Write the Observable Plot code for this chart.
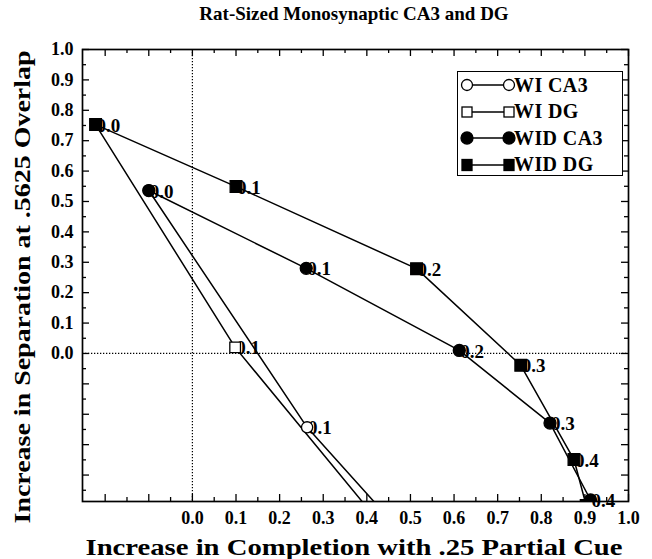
<!DOCTYPE html>
<html><head><meta charset="utf-8">
<script src="https://cdn.jsdelivr.net/npm/d3@7"></script>
<script src="https://cdn.jsdelivr.net/npm/@observablehq/plot@0.6"></script>
<style>
body{margin:0;background:#fff;font-family:"Liberation Serif",serif;}
#wrap{position:relative;width:652px;height:559px;}
#title{height:30px;box-sizing:border-box;padding-left:80px;padding-right:24px;text-align:center;font-weight:bold;font-size:19px;line-height:27px;}
#legend{position:absolute;left:457px;top:71px;width:166px;height:105px;box-sizing:border-box;border:1.6px solid #000;background:#fff;}
.row{height:26.5px;display:flex;align-items:center;font-weight:bold;font-size:20px;letter-spacing:0.4px;white-space:nowrap;}
.row svg{flex:none;overflow:visible;}
svg text.tick{letter-spacing:1px;}
</style></head><body>
<div id="wrap"><div id="title">Rat-Sized Monosynaptic CA3 and DG</div><div id="chart"></div><div id="legend"></div></div>
<script>
// ---- data ----
const seriesNames = ["WI CA3", "WI DG", "WID CA3", "WID DG"];

const wiCA3X = [-0.100, 0.263, 0.487];
const wiCA3Y = [0.536, -0.243, -0.60];
const wiCA3Labels = ["", "0.1", ""];

const wiDGX = [-0.222, 0.098, 0.454];
const wiDGY = [0.753, 0.020, -0.60];
const wiDGLabels = ["", "0.1", ""];

const widCA3X = [-0.100, 0.261, 0.612, 0.820, 0.913];
const widCA3Y = [0.536, 0.280, 0.010, -0.229, -0.482];
const widCA3Labels = ["0.0", "0.1", "0.2", "0.3", "0.4"];

const widDGX = [-0.222, 0.100, 0.514, 0.753, 0.875, 0.903];
const widDGY = [0.753, 0.549, 0.279, -0.039, -0.349, -0.50];
const widDGLabels = ["0.0", "0.1", "0.2", "0.3", "0.4", ""];

const xTickLabels = [0, 0.1, 0.2, 0.3, 0.4, 0.5, 0.6, 0.7, 0.8, 0.9, 1.0];
const yTickLabels = [0, 0.1, 0.2, 0.3, 0.4, 0.5, 0.6, 0.7, 0.8, 0.9, 1.0];
const xMajor = d3.range(-2, 11).map(d => d / 10);
const xMinor = d3.range(-15, 100, 10).map(d => d / 100);
const yMajor = d3.range(-4, 11).map(d => d / 10);
const yMinor = d3.range(-45, 100, 10).map(d => d / 100);

const xTitle = "Increase in Completion with .25 Partial Cue";
const yTitle = "Increase in Separation at .5625 Overlap";

// ---- build rows ----
const series = [
  {name: seriesNames[0], xs: wiCA3X, ys: wiCA3Y, labels: wiCA3Labels, symbol: "circle", fill: "white"},
  {name: seriesNames[1], xs: wiDGX, ys: wiDGY, labels: wiDGLabels, symbol: "square", fill: "white"},
  {name: seriesNames[2], xs: widCA3X, ys: widCA3Y, labels: widCA3Labels, symbol: "circle", fill: "black"},
  {name: seriesNames[3], xs: widDGX, ys: widDGY, labels: widDGLabels, symbol: "square", fill: "black"}
];
const rows = series.flatMap(s => s.xs.map((x, i) => ({series: s.name, x, y: s.ys[i], label: s.labels[i]})));

const W = 652, H = 529, mt = 19, mb = 58, ml = 82, mr = 24;
const fh = H - mt - mb, fw = W - ml - mr;

const dotMarks = series.map(s => Plot.dot(rows.filter(d => d.series === s.name), {
  x: "x", y: "y", symbol: s.symbol, fill: s.fill, stroke: "black", strokeWidth: 1.3,
  r: s.symbol === "square" ? (s.fill === "black" ? 6.6 : 6.0) : (s.fill === "black" ? 6 : 5.6), clip: true
}));

const chart = Plot.plot({
  width: W, height: H,
  marginTop: mt, marginBottom: mb, marginLeft: ml, marginRight: mr,
  style: {fontFamily: "'Liberation Serif', serif", fontWeight: "bold", background: "white"},
  x: {domain: [-0.252, 1.0], label: null},
  y: {domain: [-0.487, 1.0], label: null},
  marks: [
    Plot.ruleX([0], {stroke: "black", strokeWidth: 1.2, strokeDasharray: "1.3,1.7"}),
    Plot.ruleY([0], {stroke: "black", strokeWidth: 1.2, strokeDasharray: "1.3,1.7"}),
    // ticks (inward)
    Plot.tickX(xMajor, {x: d => d, insetTop: fh - 7, strokeWidth: 1.3}),
    Plot.tickX(xMinor, {x: d => d, insetTop: fh - 4, strokeWidth: 1.3}),
    Plot.tickX(xMajor, {x: d => d, insetBottom: fh - 7, strokeWidth: 1.3}),
    Plot.tickX(xMinor, {x: d => d, insetBottom: fh - 4, strokeWidth: 1.3}),
    Plot.tickY(yMajor, {y: d => d, insetRight: fw - 7, strokeWidth: 1.3}),
    Plot.tickY(yMinor, {y: d => d, insetRight: fw - 4, strokeWidth: 1.3}),
    Plot.tickY(yMajor, {y: d => d, insetLeft: fw - 7, strokeWidth: 1.3}),
    Plot.tickY(yMinor, {y: d => d, insetLeft: fw - 4, strokeWidth: 1.3}),
    Plot.frame({stroke: "black", strokeWidth: 1.7}),
    Plot.axisX(xTickLabels, {tickSize: 0, tickPadding: 10, tickFormat: d3.format(".1f"), fontSize: 18, fontWeight: "bold", label: null, className: "tick"}),
    Plot.axisY(yTickLabels, {tickSize: 0, tickPadding: 9, tickFormat: d3.format(".1f"), fontSize: 18, fontWeight: "bold", label: null, className: "tick"}),
    // data
    Plot.line(rows, {x: "x", y: "y", z: "series", stroke: "black", strokeWidth: 1.5, clip: true}),
    Plot.text(rows.filter(d => d.label), {x: "x", y: "y", text: "label", textAnchor: "start", dx: 1, dy: 1, fontSize: 19, fontWeight: "bold", className: "tick"}),
    ...dotMarks,
    // axis titles
    Plot.text([xTitle], {text: d => d, frameAnchor: "bottom", textAnchor: "middle", dx: -1.5, dy: 46, fontSize: 24, fontWeight: "bold", lineAnchor: "middle"}),
    Plot.text([yTitle], {text: d => d, frameAnchor: "left", textAnchor: "middle", rotate: -90, dx: -60, dy: 11.5, fontSize: 24, fontWeight: "bold", lineAnchor: "middle"})
  ]
});
// stretch titles to the reference widths
chart.querySelectorAll("text").forEach(t => {
  if (t.textContent === xTitle) { t.setAttribute("textLength", 537); t.setAttribute("lengthAdjust", "spacingAndGlyphs"); }
  if (t.textContent === yTitle) { t.setAttribute("textLength", 473); t.setAttribute("lengthAdjust", "spacingAndGlyphs"); }
});
document.getElementById("chart").appendChild(chart);

// ---- legend ----
const leg = document.getElementById("legend");
function glyph(s) {
  const mk = cx => s.symbol === "circle"
    ? `<circle cx="${cx}" cy="13" r="${s.fill === "black" ? 6 : 5.5}" fill="${s.fill}" stroke="black" stroke-width="1.3"/>`
    : `<rect x="${cx - 5}" y="${s.fill === "black" ? 7.5 : 8}" width="10" height="${s.fill === "black" ? 11 : 10}" fill="${s.fill}" stroke="black" stroke-width="1.3"/>`;
  return `<svg width="56" height="26"><line x1="9" x2="51" y1="13" y2="13" stroke="black" stroke-width="1.3"/>${mk(9)}${mk(51)}</svg>`;
}
series.forEach(s => {
  const r = document.createElement("div");
  r.className = "row";
  r.innerHTML = glyph(s) + `<span>${s.name}</span>`;
  leg.appendChild(r);
});
</script>
</body></html>
